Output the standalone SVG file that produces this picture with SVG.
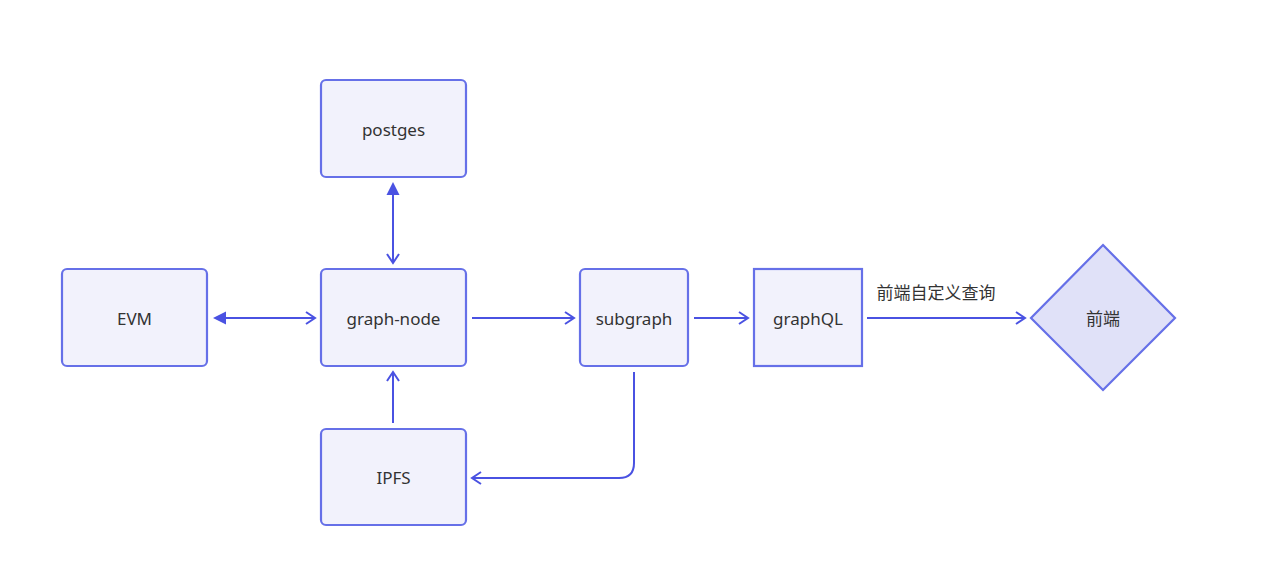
<svg xmlns="http://www.w3.org/2000/svg" width="1271" height="574" viewBox="0 0 1271 574">
<style>
.box{fill:#f2f2fc;stroke:#6670e8;stroke-width:2.2}
.dia{fill:#e0e1f8;stroke:#6670e8;stroke-width:2.2}
.t{font-family:"Noto Sans","Noto Sans CJK SC",sans-serif;font-size:17px;fill:#333;text-anchor:middle;dominant-baseline:central}
.e{fill:none;stroke:#4a52e2;stroke-width:2}
.h{fill:#4a52e2}
</style>
<defs>
<marker id="open" markerWidth="14" markerHeight="14" refX="11" refY="7" orient="auto" markerUnits="userSpaceOnUse">
<path d="M2,1 L11,7 L2,13" fill="none" stroke="#4a52e2" stroke-width="2"/>
</marker>
</defs>
<rect width="1271" height="574" fill="#ffffff"/>
<g id="connectors">
<path class="e" d="M222,318 L315,318" marker-end="url(#open)"/>
<path class="h" d="M213,318 L226,311.5 L226,324.5 z"/>
<path class="e" d="M393,192 L393,263" marker-end="url(#open)"/>
<path class="h" d="M393,182 L386.5,195 L399.5,195 z"/>
<path class="e" d="M472,318 L574,318" marker-end="url(#open)"/>
<path class="e" d="M694,318 L748,318" marker-end="url(#open)"/>
<path class="e" d="M867,318 L1025,318" marker-end="url(#open)"/>
<path class="e" d="M393,423 L393,372" marker-end="url(#open)"/>
<path class="e" d="M634,372 L634,463 Q634,478 619,478 L472,478" marker-end="url(#open)"/>
<text class="t" x="936" y="292">前端自定义查询</text>
</g>
<g id="postges"><rect class="box" x="321" y="80" width="145" height="97" rx="5"/><text class="t" x="393.5" y="129">postges</text></g>
<g id="evm"><rect class="box" x="62" y="269" width="145" height="97" rx="5"/><text class="t" x="134.5" y="318">EVM</text></g>
<g id="graph-node"><rect class="box" x="321" y="269" width="145" height="97" rx="5"/><text class="t" x="393.5" y="318">graph-node</text></g>
<g id="subgraph"><rect class="box" x="580" y="269" width="108" height="97" rx="5"/><text class="t" x="634" y="318">subgraph</text></g>
<g id="graphql"><rect class="box" x="754" y="269" width="108" height="97"/><text class="t" x="808" y="318">graphQL</text></g>
<g id="frontend"><path class="dia" d="M1103,245 L1175,318 L1103,390 L1031,318 z"/><text class="t" x="1103" y="318">前端</text></g>
<g id="ipfs"><rect class="box" x="321" y="429" width="145" height="96" rx="5"/><text class="t" x="393.5" y="477">IPFS</text></g>
</svg>
